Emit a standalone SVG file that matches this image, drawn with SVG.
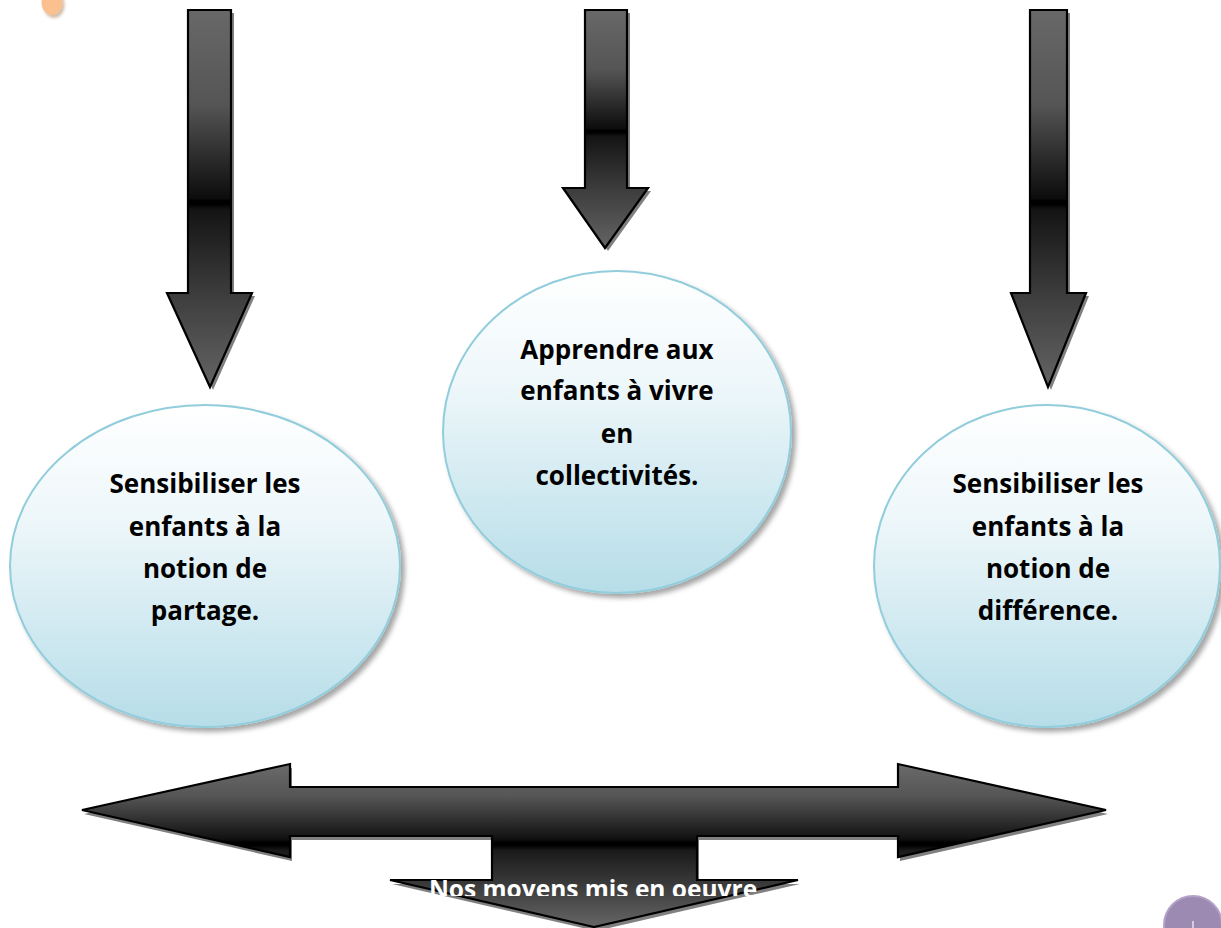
<svg xmlns="http://www.w3.org/2000/svg" width="1221" height="928" viewBox="0 0 1221 928">
  <style>
    .arrow { stroke: #000; stroke-width: 2.2; stroke-linejoin: miter; }
    .shadow { fill: #808080; }
    .bubble { fill: url(#bubbleGrad); stroke: #92cddc; stroke-width: 2; filter: url(#softShadow); }
    .label { font-family: "Open Sans", "Liberation Sans", sans-serif; font-weight: 700; font-size: 26px; fill: #000; text-anchor: middle; }
    .white-label { font-family: "Open Sans", "Liberation Sans", sans-serif; font-weight: 700; font-size: 24.5px; fill: #fff; text-anchor: middle; }
  </style>
  <defs>
    <linearGradient id="vArrowGrad" x1="0" y1="0" x2="0" y2="1">
      <stop offset="0" stop-color="#686868"/>
      <stop offset="0.25" stop-color="#555"/>
      <stop offset="0.5" stop-color="#0c0c0c"/>
      <stop offset="0.505" stop-color="#000"/>
      <stop offset="0.515" stop-color="#000"/>
      <stop offset="0.53" stop-color="#141414"/>
      <stop offset="0.75" stop-color="#3c3c3c"/>
      <stop offset="1" stop-color="#646464"/>
    </linearGradient>
    <linearGradient id="hArrowGrad" gradientUnits="userSpaceOnUse" x1="0" y1="764" x2="0" y2="927">
      <stop offset="0" stop-color="#6a6a6a"/>
      <stop offset="0.2" stop-color="#555"/>
      <stop offset="0.46" stop-color="#111"/>
      <stop offset="0.48" stop-color="#000"/>
      <stop offset="0.5" stop-color="#000"/>
      <stop offset="0.53" stop-color="#1a1a1a"/>
      <stop offset="0.8" stop-color="#444"/>
      <stop offset="1" stop-color="#666"/>
    </linearGradient>
    <linearGradient id="bubbleGrad" x1="0" y1="0" x2="0" y2="1">
      <stop offset="0" stop-color="#ffffff"/>
      <stop offset="0.35" stop-color="#eef7fa"/>
      <stop offset="1" stop-color="#b6dde8"/>
    </linearGradient>
    <filter id="softShadow" x="-10%" y="-10%" width="125%" height="125%">
      <feGaussianBlur in="SourceAlpha" stdDeviation="2.5" result="b"/>
      <feOffset in="b" dx="4" dy="4" result="o"/>
      <feFlood flood-color="#000" flood-opacity="0.35"/>
      <feComposite in2="o" operator="in" result="s"/>
      <feMerge><feMergeNode in="s"/><feMergeNode in="SourceGraphic"/></feMerge>
    </filter>
    <filter id="blurShadow" x="-50%" y="-50%" width="200%" height="200%">
      <feGaussianBlur in="SourceAlpha" stdDeviation="1.5" result="b"/>
      <feOffset in="b" dx="2" dy="3" result="o"/>
      <feFlood flood-color="#8b5a2b" flood-opacity="0.4"/>
      <feComposite in2="o" operator="in" result="s"/>
      <feMerge><feMergeNode in="s"/><feMergeNode in="SourceGraphic"/></feMerge>
    </filter>
    <clipPath id="textClip">
      <rect x="380" y="860" width="440" height="36"/>
    </clipPath>
  </defs>

  <rect width="1221" height="928" fill="#fff"/>

  <g id="decor">
    <ellipse cx="52" cy="2" rx="10.5" ry="13" fill="#fac090" filter="url(#blurShadow)"/>
    <circle cx="1193" cy="925" r="29" fill="#9d8ab2" stroke="#b3a2c7" stroke-width="2"/>
    <rect x="1192" y="921" width="2" height="7" fill="#d6cce0"/>
  </g>

  <g id="connectors">
    <g id="arrow-left">
      <path class="shadow" transform="translate(3,3)" d="M188,10 H231 V293 H252 L210,387 L167,293 H188 Z"/>
      <path class="arrow" fill="url(#vArrowGrad)" d="M188,10 H231 V293 H252 L210,387 L167,293 H188 Z"/>
    </g>
    <g id="arrow-center">
      <path class="shadow" transform="translate(3,3)" d="M585,10 H627 V188 H648 L605,248 L563,188 H585 Z"/>
      <path class="arrow" fill="url(#vArrowGrad)" d="M585,10 H627 V188 H648 L605,248 L563,188 H585 Z"/>
    </g>
    <g id="arrow-right">
      <path class="shadow" transform="translate(3,3)" d="M1030,10 H1067 V293 H1086 L1048,387 L1011,293 H1030 Z"/>
      <path class="arrow" fill="url(#vArrowGrad)" d="M1030,10 H1067 V293 H1086 L1048,387 L1011,293 H1030 Z"/>
    </g>
  </g>

  <g id="node-partage">
    <ellipse class="bubble" cx="205" cy="566" rx="195" ry="161"/>
    <text class="label" x="205" y="493">Sensibiliser les</text>
    <text class="label" x="205" y="536">enfants à la</text>
    <text class="label" x="205" y="578">notion de</text>
    <text class="label" x="205" y="620">partage.</text>
  </g>

  <g id="node-collectivites">
    <ellipse class="bubble" cx="617" cy="432" rx="174" ry="161"/>
    <text class="label" x="617" y="359">Apprendre aux</text>
    <text class="label" x="617" y="400">enfants à vivre</text>
    <text class="label" x="617" y="443">en</text>
    <text class="label" x="617" y="485">collectivités.</text>
  </g>

  <g id="node-difference">
    <ellipse class="bubble" cx="1047" cy="566" rx="173" ry="161"/>
    <text class="label" x="1048" y="493">Sensibiliser les</text>
    <text class="label" x="1048" y="536">enfants à la</text>
    <text class="label" x="1048" y="578">notion de</text>
    <text class="label" x="1048" y="620">différence.</text>
  </g>

  <g id="node-moyens">
    <path class="shadow" transform="translate(2,4)" d="M82,810 L290,764 V787 H898 V764 L1106,810 L898,857 V836 H697 V880 H798 L594,927 L390,880 H492 V836 H290 V857 Z"/>
    <path class="arrow" fill="url(#hArrowGrad)" d="M82,810 L290,764 V787 H898 V764 L1106,810 L898,857 V836 H697 V880 H798 L594,927 L390,880 H492 V836 H290 V857 Z"/>
    <text class="white-label" x="593" y="898" clip-path="url(#textClip)">Nos moyens mis en oeuvre</text>
  </g>
</svg>
